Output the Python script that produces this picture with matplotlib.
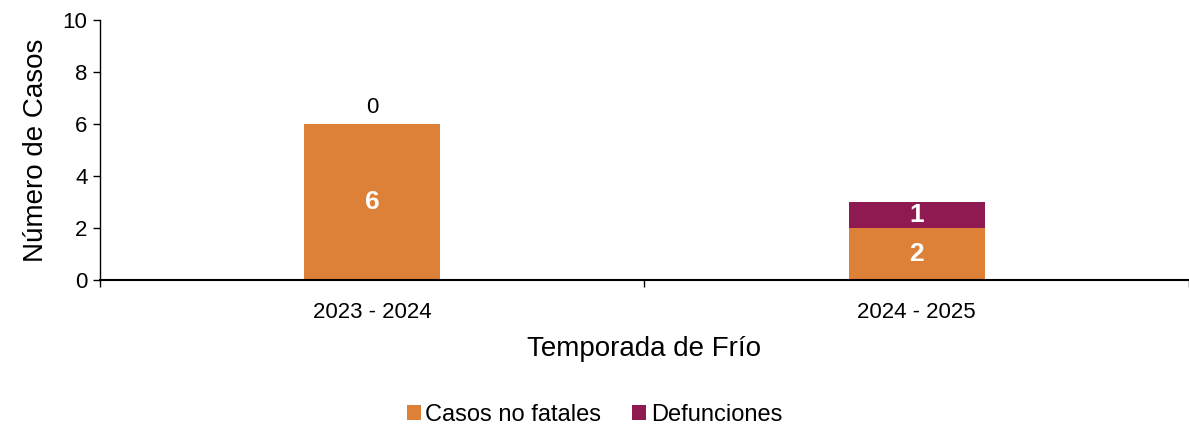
import matplotlib
matplotlib.use("Agg")
import matplotlib.pyplot as plt
import numpy as np

plt.rcParams['font.family'] = ['Liberation Sans', 'DejaVu Sans']

# data
temporadas = ["2023 - 2024", "2024 - 2025"]
casos_no_fatales = [6, 2]
defunciones = [0, 1]

color_casos = "#DD8139"
color_def = "#8E1A51"

fig = plt.figure(figsize=(11.89, 4.24), dpi=100)
ax = fig.add_axes([0.0841, 0.3396, 0.9159, 0.6132])

x = np.arange(len(temporadas))
w = 0.25
b1 = ax.bar(x, casos_no_fatales, w, color=color_casos, label="Casos no fatales")
b2 = ax.bar(x, defunciones, w, bottom=casos_no_fatales, color=color_def, label="Defunciones")

# labels inside bars
for xi, v in zip(x, casos_no_fatales):
    ax.text(xi, v / 2, str(v), ha="center", va="center", color="white",
            fontsize=19, fontweight="bold")
for xi, v, base in zip(x, defunciones, casos_no_fatales):
    if v == 0:
        ax.text(xi, base + 0.25, str(v), ha="center", va="bottom", color="black", fontsize=16)
    else:
        ax.text(xi, base + v / 2, str(v), ha="center", va="center", color="white",
                fontsize=19, fontweight="bold")

ax.set_xlim(-0.5, 1.5)
ax.set_ylim(0, 10)
ax.set_yticks([0, 2, 4, 6, 8, 10])
ax.set_xticks(x)
ax.set_xticklabels(temporadas)
ax.set_xticks([-0.5, 0.5, 1.5], minor=True)
ax.tick_params(axis="x", which="major", length=0, labelsize=16, pad=16)
ax.tick_params(axis="x", which="minor", length=5, width=1, direction="out")
ax.tick_params(axis="y", length=5, width=1, labelsize=16, direction="out", pad=4)

ax.spines["top"].set_visible(False)
ax.spines["right"].set_visible(False)
ax.spines["left"].set_linewidth(1)
ax.spines["bottom"].set_linewidth(1.5)

ax.set_ylabel("Número de Casos", fontsize=20, labelpad=10)
ax.set_xlabel("Temporada de Frío", fontsize=20, labelpad=9)

fig.legend(handles=[b1, b2], loc="lower center", bbox_to_anchor=(0.5, -0.055),
           ncol=2, frameon=False, fontsize=17, handlelength=0.6, handleheight=0.6,
           handletextpad=0.2, columnspacing=1.3)

fig.savefig("out.png", dpi=100)
